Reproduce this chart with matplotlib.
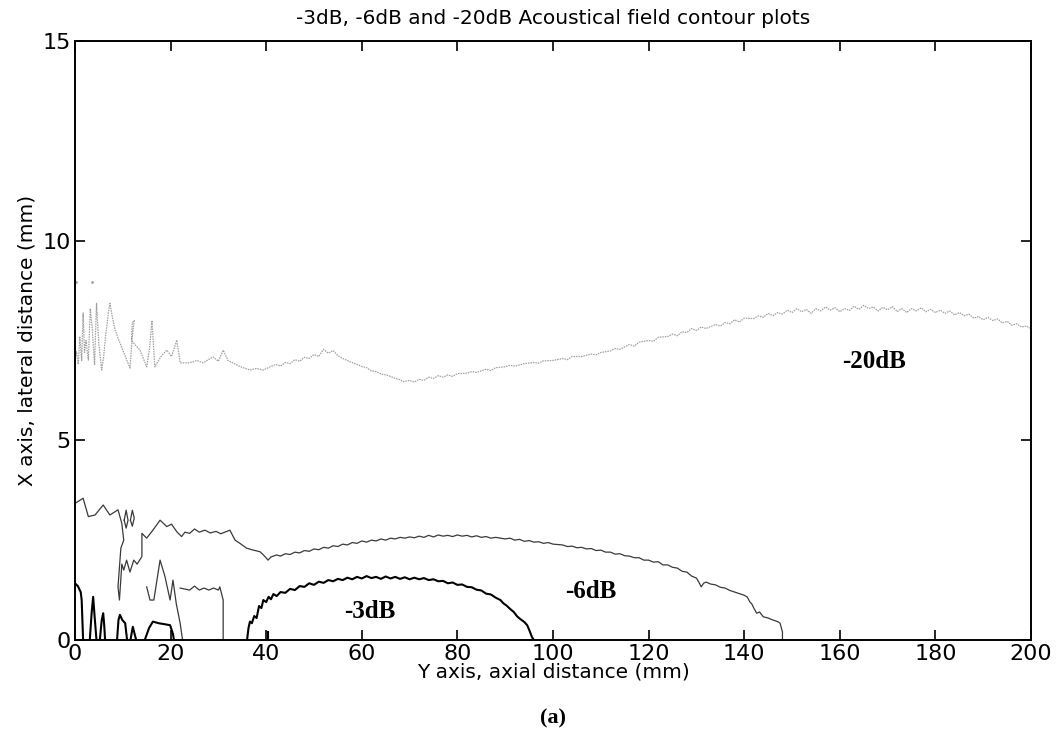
import matplotlib.pyplot as plt

# -20dB contour (axial mm, lateral mm)
db20_x = [0, 0.3, 0.7, 1.0, 1.4, 1.7, 2.0, 2.3, 2.8, 3.2, 3.6, 4.1, 4.5, 5.0, 5.6, 6.0, 6.4, 7.0, 7.3,
          7.8, 8.4, 9.2, 10, 11.5, 12.0, 12.4, 12.0, 11.8, 13.6, 15, 15.6, 16.1, 16.7, 18, 19.2, 20.2,
          21.3, 22, 24, 25.5, 26.8, 28.9, 30, 31, 32, 33, 34.5, 36.6, 38, 39.4,
          40.8, 42, 43, 44, 45, 46, 47, 48, 49, 50, 51, 52, 53, 54, 55, 56, 57.5, 59, 60, 61, 62, 63,
          64, 65, 66, 67, 68, 68.7, 70, 71, 72, 73, 74, 75, 76, 77, 78, 79, 80, 82, 83, 84, 86, 87, 88,
          90, 91, 92, 94, 96, 97, 98, 100, 102, 103, 104, 106, 108, 109, 110, 112, 113, 114, 116, 117,
          118, 120, 121, 122, 124, 125, 126, 127, 128, 129, 130, 131, 132, 134, 135, 136, 137, 138, 139,
          140, 142, 143, 144, 145, 146, 147, 148, 149, 150, 151, 152, 153, 154, 155, 156, 157, 158, 159,
          160, 161, 162, 163, 164, 165, 166, 167, 168, 169, 170, 171, 172, 173, 174, 175, 176, 177, 178,
          179, 180, 181, 182, 183, 184, 185, 186, 187, 188, 189, 190, 191, 192, 193, 194, 195, 196, 197,
          198, 199, 200]
db20_y = [7.0, 7.22, 6.9, 7.6, 7.0, 8.19, 7.2, 7.5, 7.01, 8.3, 7.8, 6.9, 8.43, 7.4, 6.76, 7.1, 7.6, 8.2,
          8.43, 8.1, 7.76, 7.5, 7.26, 6.81, 7.6, 8.0, 7.95, 7.5, 7.26, 6.84, 7.3, 8.0, 6.84, 7.1, 7.26,
          7.1, 7.51, 6.94, 6.94, 7.0, 6.94, 7.09, 6.98, 7.26, 7.0, 6.94, 6.85, 6.76, 6.8, 6.76,
          6.84, 6.9, 6.86, 6.95, 6.92, 7.02, 6.98, 7.08, 7.05, 7.15, 7.1, 7.28, 7.18, 7.25, 7.12, 7.05,
          6.97, 6.9, 6.85, 6.82, 6.74, 6.72, 6.66, 6.64, 6.6, 6.55, 6.52, 6.47, 6.5, 6.46, 6.53, 6.5,
          6.58, 6.55, 6.62, 6.58, 6.64, 6.6, 6.67, 6.68, 6.72, 6.7, 6.78, 6.75, 6.82, 6.84, 6.88, 6.86,
          6.92, 6.95, 6.93, 6.99, 7.0, 7.05, 7.02, 7.1, 7.1, 7.16, 7.14, 7.2, 7.24, 7.3, 7.28, 7.4, 7.36,
          7.46, 7.5, 7.48, 7.58, 7.6, 7.66, 7.62, 7.72, 7.7, 7.8, 7.75, 7.84, 7.8, 7.9, 7.86, 7.95, 7.92,
          8.02, 7.96, 8.06, 8.05, 8.12, 8.08, 8.18, 8.12, 8.2, 8.16, 8.26, 8.2, 8.3, 8.22, 8.28, 8.18,
          8.3, 8.24, 8.34, 8.26, 8.32, 8.22, 8.3, 8.25, 8.36, 8.28, 8.38, 8.3, 8.34, 8.24, 8.33, 8.27,
          8.35, 8.22, 8.3, 8.2, 8.3, 8.24, 8.32, 8.22, 8.28, 8.2, 8.26, 8.18, 8.24, 8.14, 8.2, 8.12, 8.16,
          8.06, 8.1, 8.02, 8.08, 8.0, 8.04, 7.94, 7.98, 7.88, 7.92, 7.84, 7.86, 7.8]
db20_dots_x = [0.3, 3.5]
db20_dots_y = [8.96, 8.96]

# -6dB contour
db6_x = [0, 1.7, 2.8, 4.2, 5.9, 7.3, 9, 9.8, 10.2, 9.6, 9.0, 9.3, 9.8, 10.2, 10.8, 11.5, 12.3, 13, 14,
         14, 15, 16.3, 17.8, 19.2, 20.2, 21.3, 22.3, 23, 24, 25, 26, 27.2, 28.3, 29.5, 30.5, 32.4, 33.5,
         34.5, 35.9, 37, 38.7, 39.5, 40.4, 41, 42.2, 43, 44, 45, 46, 47, 48, 49, 50, 51, 52, 53, 54, 55,
         56, 57, 58, 59, 60, 61, 62, 63, 64, 65, 66, 67, 68, 69, 70, 71, 72, 73, 74, 75, 76, 77, 78, 79,
         80, 81, 82, 83, 84, 85, 86, 87, 88, 90, 91, 92, 93, 94, 95, 96, 97, 98, 99, 100, 102, 103, 104,
         105, 106, 107, 108, 109, 110, 111, 112, 113, 114, 115, 116, 117, 118, 119, 120, 121, 122, 123,
         124, 125, 126, 127, 128, 129, 130, 130.5, 131, 131.5, 132, 133, 134, 135, 136, 137, 138, 139,
         140, 140.6, 141.2, 141.6, 142, 142.6, 143.2, 144, 145, 146, 147, 147.5, 148, 148]
db6_y = [3.42, 3.55, 3.09, 3.13, 3.38, 3.13, 3.26, 2.92, 2.5, 2.3, 1.33, 1.0, 1.9, 1.75, 2.0, 1.7, 2.0,
         1.9, 2.09, 2.67, 2.55, 2.75, 3.0, 2.84, 2.9, 2.71, 2.59, 2.7, 2.67, 2.78, 2.7, 2.75, 2.68, 2.72,
         2.66, 2.75, 2.5, 2.42, 2.3, 2.26, 2.21, 2.12, 2.0, 2.08, 2.13, 2.1, 2.16, 2.14, 2.2, 2.18, 2.24,
         2.22, 2.28, 2.26, 2.32, 2.3, 2.36, 2.34, 2.4, 2.38, 2.44, 2.42, 2.48, 2.45, 2.5, 2.48, 2.53,
         2.5, 2.55, 2.53, 2.57, 2.55, 2.58, 2.56, 2.6, 2.57, 2.62, 2.58, 2.63, 2.6, 2.62, 2.59, 2.63,
         2.6, 2.62, 2.58, 2.61, 2.57, 2.59, 2.55, 2.57, 2.53, 2.55, 2.5, 2.52, 2.47, 2.49, 2.45, 2.46,
         2.42, 2.44, 2.4, 2.38, 2.34, 2.35, 2.31, 2.32, 2.28, 2.29, 2.24, 2.25, 2.2, 2.2, 2.15, 2.16,
         2.11, 2.1, 2.06, 2.06, 2.0, 2.0, 1.95, 1.96, 1.88, 1.88, 1.82, 1.8, 1.72, 1.7, 1.6, 1.55, 1.45,
         1.33, 1.42, 1.45, 1.4, 1.38, 1.32, 1.3, 1.24, 1.2, 1.16, 1.12, 1.08, 0.95, 0.9, 0.8, 0.67, 0.7,
         0.58, 0.55, 0.5, 0.46, 0.42, 0.2, 0]
db6_lobe_x = [15, 15.7, 16.5, 17.8, 18.8, 19.9, 20.5, 21.2, 22, 22.5]
db6_lobe_y = [1.33, 1.0, 1.0, 2.0, 1.6, 1.0, 1.5, 0.9, 0.42, 0]
db6_lobe2_x = [22, 24, 25, 26, 27, 28, 29, 30, 30.3, 31, 31]
db6_lobe2_y = [1.3, 1.25, 1.35, 1.25, 1.3, 1.25, 1.3, 1.25, 1.33, 1.0, 0]
db6_loop1_x = [10.3, 10.7, 11.1, 10.7, 10.3]
db6_loop1_y = [3.0, 3.25, 3.0, 2.8, 3.0]
db6_loop2_x = [11.6, 12.0, 12.4, 12.0, 11.6]
db6_loop2_y = [3.0, 3.25, 3.05, 2.85, 3.0]

# -3dB contour
db3_x = [36, 36.3, 36.6, 37, 37.5, 38, 38.5, 39, 39.4, 40, 40.5, 41, 41.5, 42.2, 43, 44, 45, 46, 47, 48,
         49, 50, 51, 52, 53, 54, 55, 56, 57, 58, 59, 60, 61, 62, 63, 64, 65, 66, 67, 68, 69, 70, 71, 72,
         73, 74, 75, 76, 77, 78, 79, 80, 81, 82, 83, 84, 85, 86, 87, 88, 89, 89.6, 90.3, 91, 91.8, 92.5,
         93.2, 94, 94.6, 95.2, 95.6, 96]
db3_y = [0, 0.3, 0.46, 0.42, 0.6, 0.55, 0.85, 0.8, 1.0, 0.95, 1.08, 1.02, 1.15, 1.1, 1.2, 1.18, 1.28,
         1.25, 1.35, 1.33, 1.42, 1.38, 1.46, 1.43, 1.5, 1.47, 1.53, 1.5, 1.56, 1.52, 1.58, 1.54, 1.6,
         1.55, 1.58, 1.53, 1.59, 1.54, 1.58, 1.53, 1.57, 1.52, 1.56, 1.52, 1.55, 1.5, 1.52, 1.47, 1.48,
         1.42, 1.44, 1.38, 1.39, 1.33, 1.32, 1.26, 1.24, 1.16, 1.14, 1.06, 1.0, 0.92, 0.86, 0.78, 0.7,
         0.59, 0.52, 0.45, 0.37, 0.2, 0.07, 0]
db3_near = [
    ([0, 0.6, 1.2, 1.4, 1.7], [1.42, 1.35, 1.2, 1.0, 0]),
    ([3.1, 3.5, 3.8, 4.1, 4.5], [0, 0.7, 1.08, 0.6, 0]),
    ([5.2, 5.6, 5.9, 6.1, 6.3], [0, 0.5, 0.67, 0.4, 0]),
    ([8.8, 9.1, 9.4, 9.9, 10.5, 10.9], [0, 0.5, 0.63, 0.5, 0.42, 0]),
    ([11.6, 12.1, 12.8], [0, 0.33, 0]),
    ([14.6, 15.5, 16.3, 17.5, 18.5, 19.9, 20.5, 20.7], [0, 0.3, 0.46, 0.42, 0.4, 0.37, 0.15, 0]),
    ([40.4, 40.4], [0, 0.2]),
]

xticks = [0, 20, 40, 60, 80, 100, 120, 140, 160, 180, 200]
yticks = [0, 5, 10, 15]

plt.rcParams['font.family'] = ['DejaVu Sans']
fig = plt.figure(figsize=(10.59, 7.42), dpi=100)
ax = fig.add_axes([0.0708, 0.1375, 0.9028, 0.8072])

ax.plot(db20_x, db20_y, color='#a0a0a0', lw=0.9, ls=(0, (1.2, 0.8)))
ax.plot(db20_dots_x, db20_dots_y, ls='none', marker='.', ms=2, color='#a0a0a0')

ax.plot(db6_x, db6_y, color='#3a3a3a', lw=0.9)
for xs, ys in [(db6_lobe_x, db6_lobe_y), (db6_lobe2_x, db6_lobe2_y),
               (db6_loop1_x, db6_loop1_y), (db6_loop2_x, db6_loop2_y)]:
    ax.plot(xs, ys, color='#3a3a3a', lw=0.9)

ax.plot(db3_x, db3_y, color='black', lw=1.5)
for xs, ys in db3_near:
    ax.plot(xs, ys, color='black', lw=1.5)

lab = dict(family='Liberation Serif', fontsize=18, fontweight='bold', ha='center', va='center')
ax.text(167.2, 6.97, '-20dB', **lab)
ax.text(108, 1.21, '-6dB', **lab)
ax.text(61.7, 0.71, '-3dB', **lab)

ax.set_xlim(0, 200)
ax.set_ylim(0, 15)
ax.set_xticks(xticks)
ax.set_yticks(yticks)
ax.tick_params(direction='in', length=7, width=1.2, top=True, right=True, labelsize=16, pad=3)
for s in ax.spines.values():
    s.set_linewidth(1.4)

ax.set_title('-3dB, -6dB and -20dB Acoustical field contour plots', fontsize=14.5, pad=12)
ax.set_xlabel('Y axis, axial distance (mm)', fontsize=14.5, labelpad=-1)
ax.set_ylabel('X axis, lateral distance (mm)', fontsize=14.5, labelpad=4)
fig.text(0.522, 0.0323, '(a)', family='Liberation Serif', fontsize=16, fontweight='bold',
         ha='center', va='center')

fig.savefig('out.png', dpi=100)
